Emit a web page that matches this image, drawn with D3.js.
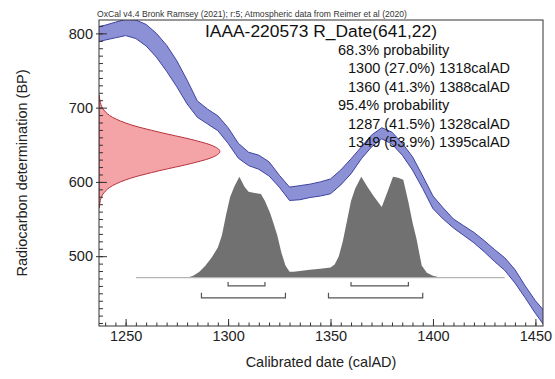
<!DOCTYPE html>
<html><head><meta charset="utf-8">
<script src="https://cdn.jsdelivr.net/npm/d3@7"></script>
<style>body{margin:0;background:#fff} text{font-family:"Liberation Sans",Arial,sans-serif}</style>
</head><body><svg id="c" width="555" height="379"></svg>
<script>
// ---- data ----
const calYears = [1235,1240,1245,1250,1255,1260,1265,1270,1275,1280,1285,1290,1295,1300,1305,1310,1315,1320,1325,1330,1335,1340,1345,1350,1355,1360,1365,1370,1375,1380,1385,1390,1395,1400,1405,1410,1415,1420,1425,1430,1435,1440,1445,1450,1455];
const calUpper = [808,811,815,819,818,812,800,784,763,737,709,698,689,673,652,640,636,627,609,593,595,597,600,604,616,631,647,663,673,667,652,634,608,581,565,550,541,532,521,509,498,482,460,440,424];
const calLower = [787,791,794,797,793,783,768,749,728,705,687,678,669,652,632,622,617,608,593,575,576,579,581,584,596,611,631,647,658,651,636,616,591,564,550,538,528,518,506,493,481,464,444,423,404];

const rDateBP = [565,575,585,595,605,615,625,633,641,649,657,667,677,687,697,707,717];
const rDensity = [0.003,0.011,0.039,0.112,0.262,0.497,0.768,0.936,1,0.936,0.768,0.497,0.262,0.112,0.039,0.011,0.003];

const probYears = [1255,1280,1283,1286,1289,1292,1295,1297,1299,1301,1303,1305.5,1308,1310,1313,1316,1318,1320.5,1322,1324,1326,1328,1330,1332,1336,1340,1345,1350,1352,1354,1356,1358,1360,1362,1365,1368,1371,1375,1378,1380.5,1383,1385.5,1388,1390,1392,1394.5,1397,1400,1404,1435];
const probValues = [0,0,0.02,0.06,0.12,0.2,0.3,0.42,0.62,0.8,0.9,1.0,0.9,0.85,0.84,0.83,0.76,0.64,0.55,0.42,0.25,0.12,0.06,0.06,0.07,0.08,0.09,0.10,0.13,0.21,0.36,0.56,0.76,0.88,1.0,0.9,0.81,0.70,0.86,1.0,0.99,0.97,0.75,0.55,0.38,0.12,0.05,0.02,0,0];

const ranges68 = [[1300,1318],[1360,1388]];
const ranges95 = [[1287,1328],[1349,1395]];

const xMajorTicks = [1250,1300,1350,1400,1450];
const yMajorTicks = [500,600,700,800];

const headerText = "OxCal v4.4 Bronk Ramsey (2021); r:5; Atmospheric data from Reimer et al (2020)";
const titleText = "IAAA-220573 R_Date(641,22)";
const legendLines = ["68.3% probability","1300 (27.0%) 1318calAD","1360 (41.3%) 1388calAD","95.4% probability","1287 (41.5%) 1328calAD","1349 (53.9%) 1395calAD"];
const legendIndent = [0,1,1,0,1,1];
const xTitle = "Calibrated date (calAD)";
const yTitle = "Radiocarbon determination (BP)";

// ---- layout ----
const L = 99, R = 543, T = 20, B = 326;
const svg = d3.select("#c");
const x = d3.scaleLinear([1237, 1453.7], [L, R]);
const y = d3.scaleLinear([406, 818], [B, T]);
const yProb = d3.scaleLinear([0, 1], [y(471), y(607)]);
const xDens = d3.scaleLinear([0, 1], [x(1237), x(1296)]);

svg.append("defs").append("clipPath").attr("id","plot")
  .append("rect").attr("x",L).attr("y",T).attr("width",R-L).attr("height",B-T);

const g = svg.append("g").attr("clip-path","url(#plot)");

// calibration band
const cal = calYears.map((yr,i)=>({yr, up:calUpper[i], lo:calLower[i]}));
g.append("path").datum(cal)
  .attr("d", d3.area().x(d=>x(d.yr)).y0(d=>y(d.lo)).y1(d=>y(d.up)))
  .attr("fill","#8c90d4").attr("stroke","#3e42a0").attr("stroke-width",1);

// radiocarbon date distribution
const rd = rDateBP.map((bp,i)=>({bp, d:rDensity[i]}));
g.append("path").datum(rd)
  .attr("d", d3.area().curve(d3.curveMonotoneY).y(d=>y(d.bp)).x0(xDens(0)).x1(d=>xDens(d.d)))
  .attr("fill","#f4a3a6").attr("stroke","#b5333c").attr("stroke-width",1);

// calibrated probability
const pd = probYears.map((yr,i)=>({yr, p:probValues[i]}));
g.append("path").datum(pd)
  .attr("d", d3.area().x(d=>x(d.yr)).y0(yProb(0)).y1(d=>yProb(d.p)))
  .attr("fill","#717171");
g.append("line").attr("x1",x(probYears[0])).attr("x2",x(probYears[probYears.length-1]))
  .attr("y1",yProb(0)).attr("y2",yProb(0)).attr("stroke","#b4b4b4").attr("stroke-width",1.2);

// range brackets
function brackets(ranges, bp, h){
  const yy = y(bp);
  ranges.forEach(r=>{
    svg.append("path")
      .attr("d", `M${x(r[0])},${yy-h}V${yy}H${x(r[1])}V${yy-h}`)
      .attr("fill","none").attr("stroke","#555").attr("stroke-width",1.2);
  });
}
brackets(ranges68, 460, 4);
brackets(ranges95, 444, 5);

// axes
const xAxisG = svg.append("g").attr("transform",`translate(0,${B})`);
xAxisG.call(d3.axisBottom(x).tickValues(d3.range(1240,1455,5)).tickSizeInner(-3.5).tickSizeOuter(0).tickFormat(""));
xAxisG.append("g").call(d3.axisBottom(x).tickValues(xMajorTicks).tickSizeInner(-7).tickSizeOuter(0).tickPadding(5).tickFormat(d3.format("d")));
const yAxisG = svg.append("g").attr("transform",`translate(${L},0)`);
yAxisG.call(d3.axisLeft(y).tickValues(d3.range(410,819,10)).tickSizeInner(-4).tickSizeOuter(0).tickFormat(""));
yAxisG.append("g").call(d3.axisLeft(y).tickValues(yMajorTicks).tickSizeInner(-8).tickSizeOuter(0).tickPadding(6).tickFormat(d3.format("d")));
svg.selectAll(".domain").remove();
svg.selectAll(".tick line").attr("stroke","#333").attr("stroke-width",1);
yAxisG.selectAll("g g .tick line").attr("x1",-3);
svg.selectAll(".tick text").attr("font-size",14.5).attr("fill","#222")
  .attr("font-family",'"Liberation Sans",Arial,sans-serif');

// frame
svg.append("rect").attr("x",L).attr("y",T).attr("width",R-L).attr("height",B-T)
  .attr("fill","none").attr("stroke","#333").attr("stroke-width",1);

// texts
svg.append("text").attr("x",97).attr("y",16.5).attr("font-size",8.6).attr("fill","#333").text(headerText);
svg.append("text").attr("x",(L+R)/2).attr("y",37).attr("text-anchor","middle").attr("font-size",17.4).attr("fill","#111").text(titleText);
legendLines.forEach((t,i)=>{
  svg.append("text").attr("x",338 + legendIndent[i]*10).attr("y",55 + i*18.4)
    .attr("font-size",14.5).attr("fill","#111").text(t);
});
svg.append("text").attr("x",(L+R)/2).attr("y",367).attr("text-anchor","middle").attr("font-size",14.5).attr("fill","#222").text(xTitle);
svg.append("text").attr("transform",`translate(27,${(T+B)/2}) rotate(-90)`).attr("text-anchor","middle").attr("font-size",14.5).attr("fill","#222").text(yTitle);
</script></body></html>
